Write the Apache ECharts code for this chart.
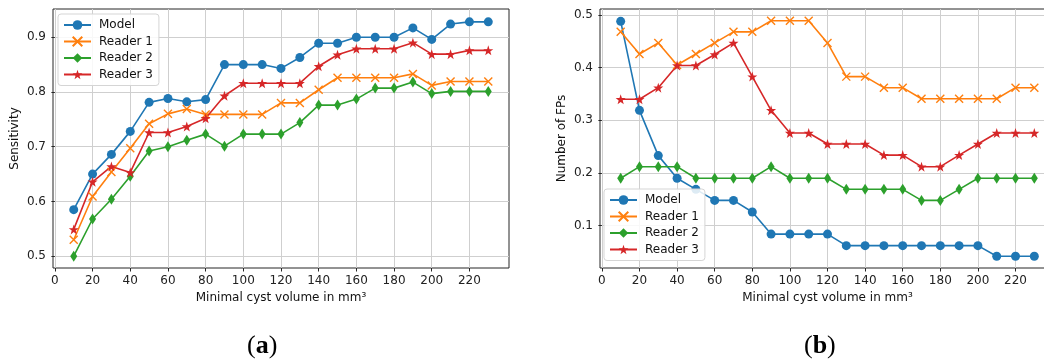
<!DOCTYPE html>
<html>
<head>
<meta charset="utf-8">
<script src="https://cdn.jsdelivr.net/npm/echarts@6/dist/echarts.min.js"></script>
<style>
  html, body { margin: 0; padding: 0; background: #fff; }
  #chart { width: 1044px; height: 362px; }
</style>
</head>
<body>
<div id="chart"></div>
<script>
// minimal cyst volume (mm^3)
const volumes = [10, 20, 30, 40, 50, 60, 70, 80, 90, 100, 110, 120, 130, 140, 150, 160, 170, 180, 190, 200, 210, 220, 230]
const seriesNames = ['Model', 'Reader 1', 'Reader 2', 'Reader 3']

// (a) sensitivity
const sensModel = [0.585, 0.650, 0.686, 0.728, 0.781, 0.788, 0.782, 0.786, 0.850, 0.850, 0.850, 0.843, 0.863, 0.889, 0.889, 0.900, 0.900, 0.900, 0.917, 0.896, 0.924, 0.928, 0.928]
const sensReader1 = [0.530, 0.609, 0.654, 0.697, 0.742, 0.760, 0.769, 0.759, 0.759, 0.759, 0.759, 0.780, 0.780, 0.804, 0.826, 0.826, 0.826, 0.826, 0.833, 0.812, 0.819, 0.819, 0.819]
const sensReader2 = [0.500, 0.568, 0.604, 0.646, 0.692, 0.700, 0.712, 0.723, 0.701, 0.723, 0.723, 0.723, 0.744, 0.776, 0.776, 0.787, 0.807, 0.807, 0.818, 0.797, 0.801, 0.801, 0.801]
const sensReader3 = [0.549, 0.636, 0.664, 0.653, 0.726, 0.726, 0.737, 0.752, 0.793, 0.816, 0.816, 0.816, 0.816, 0.847, 0.868, 0.879, 0.879, 0.879, 0.890, 0.869, 0.869, 0.876, 0.876]

// (b) number of false positives
const fpModel = [0.488, 0.319, 0.233, 0.190, 0.169, 0.148, 0.148, 0.126, 0.084, 0.084, 0.084, 0.084, 0.062, 0.062, 0.062, 0.062, 0.062, 0.062, 0.062, 0.062, 0.042, 0.042, 0.042]
const fpReader1 = [0.468, 0.426, 0.447, 0.405, 0.426, 0.447, 0.468, 0.468, 0.489, 0.489, 0.489, 0.447, 0.383, 0.383, 0.362, 0.362, 0.341, 0.341, 0.341, 0.341, 0.341, 0.362, 0.362]
const fpReader2 = [0.190, 0.212, 0.212, 0.212, 0.190, 0.190, 0.190, 0.190, 0.212, 0.190, 0.190, 0.190, 0.169, 0.169, 0.169, 0.169, 0.148, 0.148, 0.169, 0.190, 0.190, 0.190, 0.190]
const fpReader3 = [0.340, 0.340, 0.362, 0.404, 0.404, 0.425, 0.447, 0.383, 0.319, 0.276, 0.276, 0.255, 0.255, 0.255, 0.234, 0.234, 0.212, 0.212, 0.234, 0.255, 0.276, 0.276, 0.276]

// tick labels
const xTicks = [0, 20, 40, 60, 80, 100, 120, 140, 160, 180, 200, 220]
const sensTicks = [0.5, 0.6, 0.7, 0.8, 0.9]
const fpTicks = [0.1, 0.2, 0.3, 0.4, 0.5]

const colors = ['#1f77b4', '#ff7f0e', '#2ca02c', '#d62728']
// matplotlib-like markers: o, x, d, *
const markers = [
  {symbol: 'circle', size: 9},
  {symbol: 'path://M0,0L10,10M10,0L0,10', size: 8},
  {symbol: 'path://M3,0L6,5L3,10L0,5Z', size: [7, 11]},
  {symbol: 'path://M5,0L6.2,3.6L10,3.6L7,5.9L8.1,9.5L5,7.3L1.9,9.5L3,5.9L0,3.6L3.8,3.6Z', size: 10},
]

const FONT = 'DejaVu Sans'
const frameColor = '#262626'
const gridColor = '#cfcfcf'

function makeSeries(values, i, axisIndex) {
  const m = markers[i]
  return {
    name: seriesNames[i],
    type: 'line',
    xAxisIndex: axisIndex,
    yAxisIndex: axisIndex,
    data: volumes.map((v, k) => [v, values[k]]),
    symbol: m.symbol,
    symbolSize: m.size,
    showAllSymbol: true,
    clip: false,
    animation: false,
    lineStyle: {color: colors[i], width: 1.6},
    itemStyle: {
      color: colors[i],
      borderColor: colors[i],
      borderWidth: i === 1 ? 1.4 : 0,
      opacity: 1,
    },
  }
}

function xAxis(gridIndex) {
  return {
    type: 'value',
    gridIndex,
    min: -1,
    max: 241,
    name: 'Minimal cyst volume in mm³',
    nameLocation: 'middle',
    nameGap: 23,
    nameTextStyle: {fontFamily: FONT, fontSize: 12, color: '#111'},
    axisLine: {show: false},
    axisTick: {show: true, length: 3.5, customValues: xTicks, lineStyle: {color: frameColor}},
    axisLabel: {customValues: xTicks, margin: 7, fontFamily: FONT, fontSize: 12, color: '#222'},
    splitLine: {show: true, customValues: xTicks, lineStyle: {color: gridColor, width: 1}},
  }
}

function yAxis(gridIndex, min, max, ticks, title) {
  return {
    type: 'value',
    gridIndex,
    min,
    max,
    name: title,
    nameLocation: 'middle',
    nameGap: 32,
    nameTextStyle: {fontFamily: FONT, fontSize: 12, color: '#111'},
    axisLine: {show: false},
    axisTick: {show: true, length: 3.5, customValues: ticks, lineStyle: {color: frameColor}},
    axisLabel: {customValues: ticks, margin: 7, fontFamily: FONT, fontSize: 12, color: '#222',
      formatter: v => v.toFixed(1)},
    splitLine: {show: true, customValues: ticks, lineStyle: {color: gridColor, width: 1}},
  }
}

function legend(left, top) {
  return {
    orient: 'vertical',
    left,
    top,
    data: seriesNames,
    itemWidth: 27,
    itemHeight: 12,
    itemGap: 4.5,
    padding: [5, 6, 5, 5],
    backgroundColor: 'rgba(255,255,255,0.85)',
    borderColor: '#d5d5d5',
    borderWidth: 1,
    borderRadius: 3,
    selectedMode: false,
    textStyle: {fontFamily: FONT, fontSize: 12, color: '#111', padding: [0, 0, 0, 3]},
  }
}

function panelLabel(letter, left) {
  return {
    type: 'text', left, top: 333,
    style: {
      text: '{p|(}{b|' + letter + '}{p|)}',
      rich: {
        p: {fontFamily: 'Liberation Serif', fontSize: 26, fill: '#000'},
        b: {fontFamily: 'Liberation Serif', fontSize: 26, fontWeight: 'bold', fill: '#000'},
      },
    },
  }
}

const option = {
  backgroundColor: '#fff',
  animation: false,
  grid: [
    {left: 53, top: 9, width: 456, height: 259, show: true, borderColor: frameColor, borderWidth: 1,
      containLabel: false, outerBoundsMode: 'none'},
    {left: 600, top: 9, width: 455, height: 259, show: true, borderColor: frameColor, borderWidth: 1,
      containLabel: false, outerBoundsMode: 'none'},
  ],
  xAxis: [xAxis(0), xAxis(1)],
  yAxis: [
    yAxis(0, 0.4785, 0.9515, sensTicks, 'Sensitivity'),
    yAxis(1, 0.0196, 0.5114, fpTicks, 'Number of FPs'),
  ],
  legend: [legend(58, 14), legend(604, 189)],
  graphic: [panelLabel('a', 247), panelLabel('b', 804)],
  series: [
    makeSeries(sensModel, 0, 0),
    makeSeries(sensReader1, 1, 0),
    makeSeries(sensReader2, 2, 0),
    makeSeries(sensReader3, 3, 0),
    makeSeries(fpModel, 0, 1),
    makeSeries(fpReader1, 1, 1),
    makeSeries(fpReader2, 2, 1),
    makeSeries(fpReader3, 3, 1),
  ],
}

const chart = echarts.init(document.getElementById('chart'), null, {renderer: 'canvas'})
chart.setOption(option)
window.addEventListener('resize', () => chart.resize())
</script>
</body>
</html>
